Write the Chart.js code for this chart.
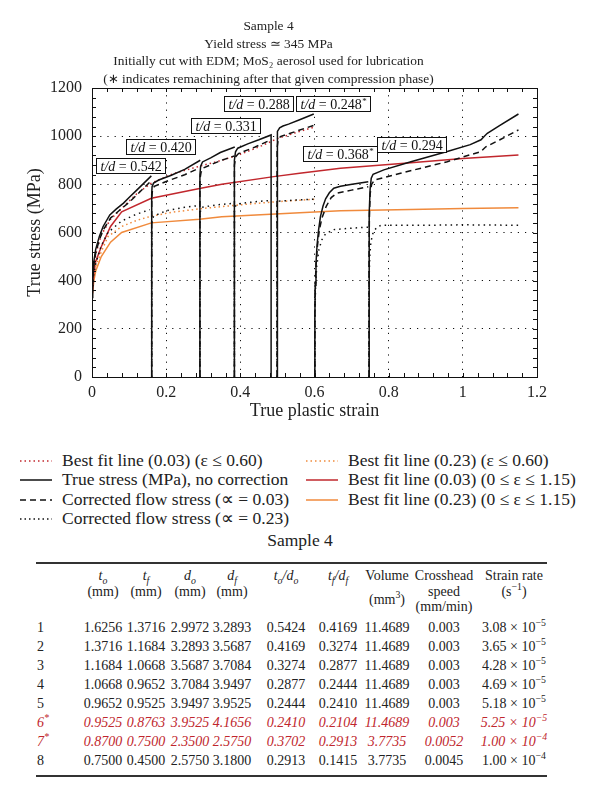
<!DOCTYPE html>
<html>
<head>
<meta charset="utf-8">
<script src="https://cdn.jsdelivr.net/npm/chart.js@4.4.1/dist/chart.umd.min.js"></script>
<style>
  body { margin: 0; background: #fff; font-family: "Liberation Serif", serif; color: #222; }
  #page { position: relative; width: 600px; height: 793px; overflow: hidden; }
  #chart { position: absolute; left: 0; top: 0; }
  .lg { position: absolute; font-size: 17.5px; line-height: 19px; white-space: nowrap; }
  .lg svg { position: absolute; left: -42px; top: 8px; }
  .cell { position: absolute; font-size: 14px; line-height: 16px; white-space: nowrap; text-align: center; width: 90px; }
  .cell.lbl { text-align: left; width: 30px; }
  .red { color: #c0262d; font-style: italic; }
  sub, sup { font-size: 70%; line-height: 0; }
  .rule { position: absolute; left: 36px; width: 511px; background: #333; }
</style>
</head>
<body>
<div id="page">
  <canvas id="chart" width="600" height="422"></canvas>
</div>
<script>
// ---- chart data (true plastic strain, MPa) ----
const xTicks = [0, 0.2, 0.4, 0.6, 0.8, 1, 1.2];
const yTicks = [0, 200, 400, 600, 800, 1000, 1200];

// true stress, no correction (one array per compression phase)
const trueSeg1 = [[0,330],[0.002,420],[0.005,480],[0.01,530],[0.02,585],[0.03,625],[0.048,673],[0.065,697],[0.085,722],[0.1,745],[0.12,775],[0.14,805],[0.16,835]];
const trueSeg2 = [[0.161,0],[0.161,760],[0.162,790],[0.166,805],[0.18,818],[0.214,838],[0.25,862],[0.292,900]];
const trueSeg3 = [[0.291,0],[0.291,840],[0.293,875],[0.298,893],[0.32,910],[0.346,932],[0.385,955]];
const trueSeg4 = [[0.384,0],[0.384,900],[0.387,935],[0.393,950],[0.42,968],[0.45,985],[0.483,1005],[0.483,0]];
const trueSeg5 = [[0.499,0],[0.499,990],[0.501,1020],[0.506,1035],[0.515,1042],[0.53,1050],[0.56,1068],[0.598,1092]];
const trueSeg6 = [[0.601,0],[0.601,250],[0.602,380],[0.604,470],[0.607,550],[0.611,610],[0.616,666],[0.623,710],[0.63,740],[0.64,765],[0.652,784],[0.67,792],[0.697,799],[0.745,811]];
const trueSeg7 = [[0.747,0],[0.747,500],[0.748,680],[0.75,780],[0.753,825],[0.758,842],[0.787,860],[0.86,894],[0.958,936],[1.02,965],[1.049,985],[1.058,1000],[1.066,1012],[1.1,1045],[1.15,1092]];

// corrected flow stress, alpha = 0.03
const c03Seg1 = [[0,330],[0.002,410],[0.005,465],[0.01,515],[0.02,570],[0.03,610],[0.05,660],[0.08,700],[0.1,725],[0.12,755],[0.14,785],[0.155,808]];
const c03Seg2 = [[0.161,0],[0.161,740],[0.163,775],[0.168,792],[0.2,812],[0.25,840],[0.29,868]];
const c03Seg3 = [[0.291,0],[0.291,820],[0.294,850],[0.3,868],[0.346,898],[0.384,918]];
const c03Seg4 = [[0.384,0],[0.384,880],[0.388,915],[0.395,928],[0.44,955],[0.483,985]];
const c03Seg5 = [[0.499,0],[0.499,950],[0.502,985],[0.508,998],[0.55,1020],[0.598,1045]];
const c03Seg6 = [[0.601,0],[0.601,250],[0.602,380],[0.604,460],[0.608,545],[0.613,610],[0.62,660],[0.632,710],[0.645,745],[0.66,763],[0.7,776],[0.745,790]];
const c03Seg7 = [[0.747,0],[0.747,500],[0.748,660],[0.75,760],[0.754,800],[0.762,818],[0.832,846],[0.958,894],[1.049,936],[1.062,956],[1.1,985],[1.15,1026]];

// corrected flow stress, alpha = 0.23
const c23Seg1 = [[0,330],[0.004,420],[0.01,470],[0.025,545],[0.043,600],[0.08,648],[0.12,676],[0.156,695]];
const c23Seg2 = [[0.161,0],[0.161,640],[0.166,668],[0.2,690],[0.25,705],[0.29,712]];
const c23Seg3 = [[0.291,0],[0.291,680],[0.296,705],[0.34,715],[0.384,722]];
const c23Seg4 = [[0.384,0],[0.384,700],[0.39,718],[0.44,728],[0.483,733]];
const c23Seg5 = [[0.499,0],[0.499,710],[0.505,730],[0.55,735],[0.598,738]];
const c23Seg6 = [[0.601,0],[0.601,250],[0.603,380],[0.606,460],[0.612,530],[0.62,570],[0.63,595],[0.652,612],[0.7,618],[0.745,622]];
const c23Seg7 = [[0.747,0],[0.747,400],[0.749,500],[0.752,560],[0.758,600],[0.768,622],[0.78,630],[0.9,630],[1.0,632],[1.15,630]];

// best fit lines
const fit03Short = [[0,330],[0.005,450],[0.01,510],[0.025,590],[0.05,655],[0.08,700],[0.12,760],[0.16,805],[0.22,845],[0.29,875],[0.35,900],[0.4,925],[0.45,955],[0.5,990],[0.55,1015],[0.6,1038]];
const fit23Short = [[0,330],[0.005,420],[0.01,460],[0.025,520],[0.043,583],[0.08,625],[0.12,650],[0.16,668],[0.22,685],[0.3,700],[0.4,715],[0.5,728],[0.6,738]];
const fit03Full = [[0,330],[0.005,430],[0.01,480],[0.025,541],[0.05,625],[0.08,686],[0.16,742],[0.29,783],[0.35,800],[0.49,832],[0.56,846],[0.67,867],[0.86,890],[1.0,907],[1.15,922]];
const fit23Full = [[0,330],[0.005,400],[0.01,440],[0.025,500],[0.05,560],[0.08,600],[0.16,640],[0.29,655],[0.35,665],[0.56,682],[0.67,690],[0.86,695],[1.0,700],[1.15,703]];

// t/d labels (value, anchor in data units)
const tdLabels = [
  { val: '0.542', star: false, x: 0.103, y: 880 },
  { val: '0.420', star: false, x: 0.184, y: 959 },
  { val: '0.331', star: false, x: 0.359, y: 1046 },
  { val: '0.288', star: false, x: 0.449, y: 1134 },
  { val: '0.248', star: true,  x: 0.65,  y: 1134 },
  { val: '0.368', star: true,  x: 0.668, y: 926 },
  { val: '0.294', star: false, x: 0.862, y: 965 }
];

const RED = '#c1272d';
const ORANGE = '#f08a3c';
const SERIF = '"Liberation Serif", serif';

function joinSegs(segs) {
  const out = [];
  segs.forEach(function (s, i) {
    if (i > 0) out.push({ x: s[0][0], y: null });
    s.forEach(function (p) { out.push({ x: p[0], y: p[1] }); });
  });
  return out;
}

function line(label, segs, color, dash, width) {
  return {
    label: label,
    data: joinSegs(segs),
    showLine: true,
    borderColor: color,
    backgroundColor: color,
    borderDash: dash,
    borderWidth: width || 1.5,
    pointRadius: 0,
    tension: 0,
    spanGaps: false
  };
}

const frame = {
  id: 'frame',
  afterDatasetsDraw(chart) {
    const { ctx, chartArea: a, scales: { x, y } } = chart;
    ctx.save();
    ctx.strokeStyle = '#111';
    ctx.lineWidth = 1;
    ctx.strokeRect(Math.round(a.left) + 0.5, Math.round(a.top) + 0.5, Math.round(a.right - a.left), Math.round(a.bottom - a.top));
    ctx.beginPath();
    for (let v = 0; v <= 1.2001; v += 0.04) {
      const px = Math.round(x.getPixelForValue(v)) + 0.5;
      ctx.moveTo(px, a.bottom); ctx.lineTo(px, a.bottom - 4);
      ctx.moveTo(px, a.top); ctx.lineTo(px, a.top + 4);
    }
    for (let v = 0; v <= 1200; v += 40) {
      const py = Math.round(y.getPixelForValue(v)) + 0.5;
      ctx.moveTo(a.left, py); ctx.lineTo(a.left + 4, py);
      ctx.moveTo(a.right, py); ctx.lineTo(a.right - 4, py);
    }
    ctx.stroke();
    ctx.restore();
  }
};

const tdBoxes = {
  id: 'tdBoxes',
  afterDraw(chart) {
    const { ctx, scales: { x, y } } = chart;
    ctx.save();
    tdLabels.forEach(function (l) {
      const px = x.getPixelForValue(l.x), py = y.getPixelForValue(l.y);
      ctx.font = 'italic 14px "Liberation Serif"';
      const w1 = ctx.measureText('t/d').width;
      ctx.font = '14px "Liberation Serif"';
      const rest = ' = ' + l.val;
      const w2 = ctx.measureText(rest).width;
      const w3 = l.star ? 5 : 0;
      const w = Math.round(w1 + w2 + w3 + 8), h = 15;
      const bx = Math.round(px - w / 2) + 0.5, by = Math.round(py - h / 2) + 0.5;
      ctx.fillStyle = '#fff';
      ctx.fillRect(bx, by, w, h);
      ctx.strokeStyle = '#111';
      ctx.lineWidth = 1;
      ctx.strokeRect(bx, by, w, h);
      ctx.fillStyle = '#111';
      ctx.textBaseline = 'middle';
      ctx.font = 'italic 14px "Liberation Serif"';
      ctx.fillText('t/d', bx + 4, by + h / 2 + 1);
      ctx.font = '14px "Liberation Serif"';
      ctx.fillText(rest, bx + 4 + w1, by + h / 2 + 1);
      if (l.star) {
        ctx.font = '9px "Liberation Serif"';
        ctx.fillText('*', bx + 4 + w1 + w2 + 0.5, by + 5);
      }
    });
    ctx.restore();
  }
};

const tickFont = { family: SERIF, size: 16 };

new Chart(document.getElementById('chart'), {
  type: 'scatter',
  data: {
    datasets: [
      line('True stress (MPa), no correction', [trueSeg1, trueSeg2, trueSeg3, trueSeg4, trueSeg5, trueSeg6, trueSeg7], '#111', []),
      line('Corrected flow stress (∝ = 0.03)', [c03Seg1, c03Seg2, c03Seg3, c03Seg4, c03Seg5, c03Seg6, c03Seg7], '#111', [6, 4]),
      line('Corrected flow stress (∝ = 0.23)', [c23Seg1, c23Seg2, c23Seg3, c23Seg4, c23Seg5, c23Seg6, c23Seg7], '#111', [1.5, 4]),
      line('Best fit line (0.03) (ε ≤ 0.60)', [fit03Short], RED, [1.5, 3]),
      line('Best fit line (0.23) (ε ≤ 0.60)', [fit23Short], ORANGE, [1.5, 3]),
      line('Best fit line (0.03) (0 ≤ ε ≤ 1.15)', [fit03Full], RED, []),
      line('Best fit line (0.23) (0 ≤ ε ≤ 1.15)', [fit23Full], ORANGE, [])
    ]
  },
  options: {
    responsive: false,
    animation: false,
    events: [],
    layout: { padding: { left: 0, right: 63, top: 0, bottom: 0 } },
    plugins: {
      legend: { display: false },
      tooltip: { enabled: false },
      title: {
        display: true,
        text: ['Sample 4', 'Yield stress ≃ 345 MPa', 'Initially cut with EDM; MoS₂ aerosol used for lubrication', '(∗ indicates remachining after that given compression phase)'],
        color: '#222',
        font: { family: SERIF, size: 13.4, weight: 'normal', lineHeight: 1.306 },
        padding: { top: 18, bottom: 0 }
      }
    },
    scales: {
      x: {
        type: 'linear', min: 0, max: 1.2,
        afterBuildTicks: function (s) { s.ticks = xTicks.map(function (v) { return { value: v }; }); },
        afterFit: function (s) { s.height = 45; },
        ticks: { font: tickFont, color: '#222', padding: 6, callback: function (v) { return String(+v.toFixed(1)); } },
        grid: { color: '#111', drawTicks: false, lineWidth: 1 },
        border: { display: true, color: '#111', dash: [1.2, 6] },
        title: { display: true, text: 'True plastic strain', color: '#222', font: { family: SERIF, size: 18 }, padding: { top: 0, bottom: 0 } }
      },
      y: {
        min: 0, max: 1200,
        afterBuildTicks: function (s) { s.ticks = yTicks.map(function (v) { return { value: v }; }); },
        afterFit: function (s) { s.width = 92; },
        ticks: { font: tickFont, color: '#222', padding: 10, callback: function (v) { return String(v); } },
        grid: { color: '#111', drawTicks: false, lineWidth: 1 },
        border: { display: true, color: '#111', dash: [1.2, 6] },
        title: { display: true, text: 'True stress (MPa)', color: '#222', font: { family: SERIF, size: 18 }, padding: { top: 24, bottom: 0 } }
      }
    }
  },
  plugins: [frame, tdBoxes]
});

// ---- legend (HTML) ----
const legendItems = [
  { text: 'Best fit line (0.03) (ε ≤ 0.60)', color: RED, dash: '1.5 3', col: 0, row: 0 },
  { text: 'True stress (MPa), no correction', color: '#111', dash: '', col: 0, row: 1 },
  { text: 'Corrected flow stress (∝ = 0.03)', color: '#111', dash: '6 4', col: 0, row: 2 },
  { text: 'Corrected flow stress (∝ = 0.23)', color: '#111', dash: '1.5 3', col: 0, row: 3 },
  { text: 'Best fit line (0.23) (ε ≤ 0.60)', color: ORANGE, dash: '1.5 3', col: 1, row: 0 },
  { text: 'Best fit line (0.03) (0 ≤ ε ≤ 1.15)', color: RED, dash: '', col: 1, row: 1 },
  { text: 'Best fit line (0.23) (0 ≤ ε ≤ 1.15)', color: ORANGE, dash: '', col: 1, row: 2 }
];
const page = document.getElementById('page');
legendItems.forEach(function (it) {
  const d = document.createElement('div');
  d.className = 'lg';
  d.style.left = (it.col ? 348 : 62) + 'px';
  d.style.top = (451 + it.row * 19.3) + 'px';
  d.innerHTML = '<svg width="32" height="4"><line x1="0" y1="2" x2="32" y2="2" stroke="' + it.color +
    '" stroke-width="1.5" stroke-dasharray="' + it.dash + '"/></svg>' + it.text;
  page.appendChild(d);
});

// ---- table (HTML) ----
const rowLabels = ['1', '2', '3', '4', '5', '6<sup>*</sup>', '7<sup>*</sup>', '8'];
const colTo = ['1.6256', '1.3716', '1.1684', '1.0668', '0.9652', '0.9525', '0.8700', '0.7500'];
const colTf = ['1.3716', '1.1684', '1.0668', '0.9652', '0.9525', '0.8763', '0.7500', '0.4500'];
const colDo = ['2.9972', '3.2893', '3.5687', '3.7084', '3.9497', '3.9525', '2.3500', '2.5750'];
const colDf = ['3.2893', '3.5687', '3.7084', '3.9497', '3.9525', '4.1656', '2.5750', '3.1800'];
const colToDo = ['0.5424', '0.4169', '0.3274', '0.2877', '0.2444', '0.2410', '0.3702', '0.2913'];
const colTfDf = ['0.4169', '0.3274', '0.2877', '0.2444', '0.2410', '0.2104', '0.2913', '0.1415'];
const colVolume = ['11.4689', '11.4689', '11.4689', '11.4689', '11.4689', '11.4689', '3.7735', '3.7735'];
const colSpeed = ['0.003', '0.003', '0.003', '0.003', '0.003', '0.003', '0.0052', '0.0045'];
const colRate = ['3.08', '3.65', '4.28', '4.69', '5.18', '5.25', '1.00', '1.00'];
const colRateExp = ['−5', '−5', '−5', '−5', '−5', '−5', '−4', '−4'];
const redRows = [5, 6];

const colX = [103, 146, 190, 232, 286, 338, 387, 444, 514];
const headers = [
  ['<i>t<sub>o</sub></i>', '(mm)'],
  ['<i>t<sub>f</sub></i>', '(mm)'],
  ['<i>d<sub>o</sub></i>', '(mm)'],
  ['<i>d<sub>f</sub></i>', '(mm)'],
  ['<i>t<sub>o</sub>/d<sub>o</sub></i>'],
  ['<i>t<sub>f</sub>/d<sub>f</sub></i>'],
  ['Volume', '', '(mm<sup>3</sup>)'],
  ['Crosshead', 'speed', '(mm/min)'],
  ['Strain rate', '(s<sup>−1</sup>)']
];

function cell(x, y, html, cls) {
  const d = document.createElement('div');
  d.className = 'cell' + (cls ? ' ' + cls : '');
  d.style.left = (cls && cls.indexOf('lbl') >= 0 ? x : x - 45) + 'px';
  d.style.top = (y - 8) + 'px';
  d.innerHTML = html;
  page.appendChild(d);
}

function rule(y, h) {
  const d = document.createElement('div');
  d.className = 'rule';
  d.style.top = y + 'px';
  d.style.height = h + 'px';
  page.appendChild(d);
}

const cap = document.createElement('div');
cap.className = 'cell';
cap.style.cssText = 'left:240px;width:120px;top:531px;font-size:17.5px;line-height:19px;';
cap.textContent = 'Sample 4';
page.appendChild(cap);

rule(562, 1.5);
headers.forEach(function (h, c) {
  h.forEach(function (t, r) {
    if (!t) return;
    const y = (c === 6 && r === 2) ? 600 : 576 + r * 15.5;
    cell(colX[c], y, t);
  });
});
const cols = [colTo, colTf, colDo, colDf, colToDo, colTfDf, colVolume, colSpeed];
rowLabels.forEach(function (lab, r) {
  const y = 628 + r * 19;
  const red = redRows.indexOf(r) >= 0;
  cell(37, y, lab, 'lbl' + (red ? ' red' : ''));
  cols.forEach(function (col, c) { cell(colX[c], y, col[r], red ? 'red' : ''); });
  cell(colX[8], y, colRate[r] + ' × 10<sup>' + colRateExp[r] + '</sup>', red ? 'red' : '');
});
rule(775, 2);
</script>
</body>
</html>
